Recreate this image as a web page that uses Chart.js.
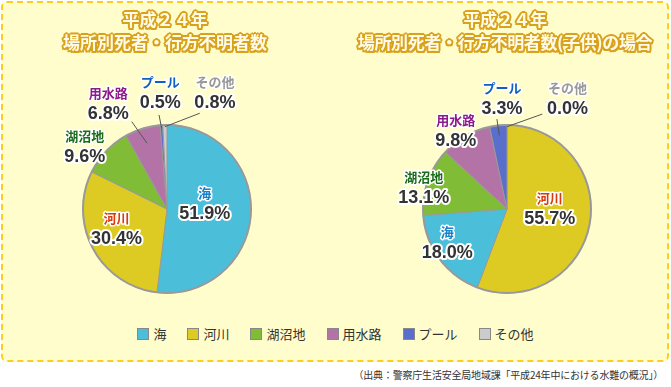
<!DOCTYPE html>
<html><head><meta charset="utf-8">
<script src="https://cdn.jsdelivr.net/npm/chart.js@4"></script>
<style>
html,body{margin:0;padding:0;background:#fff;}
#wrap{position:relative;width:671px;height:387px;overflow:hidden;font-family:"Noto Sans CJK JP",sans-serif;}
#panel{position:absolute;left:1px;top:1px;width:664px;height:357px;border:2px dashed #FFCC22;border-radius:6px;background:#FFFDCC;}
canvas{position:absolute;top:0;}
.title{position:absolute;top:7px;width:330px;text-align:center;font-weight:bold;font-size:17px;line-height:23px;color:#FFFBE6;
 text-shadow:-2px 0 #D9A21C,2px 0 #D9A21C,0 -2px #D9A21C,0 2px #D9A21C,-1.5px -1.5px #D9A21C,1.5px -1.5px #D9A21C,-1.5px 1.5px #D9A21C,1.5px 1.5px #D9A21C,0 0 3px #E8C050;z-index:3;}
#legend{position:absolute;left:0;top:324px;width:671px;display:flex;justify-content:center;align-items:center;gap:21px;font-size:13px;color:#333;z-index:3;}
#legend .it{display:flex;align-items:center;}
#legend .sw{display:inline-block;width:10px;height:10px;border:1px solid #888;margin-right:4px;}
#source{position:absolute;right:8px;top:367px;font-size:10px;letter-spacing:-0.2px;color:#333;white-space:nowrap;}
</style></head>
<body><div id="wrap">
<div id="panel"></div>
<div class="title" style="left:0px">平成２４年<br>場所別死者・行方不明者数</div>
<div class="title" style="left:340px;letter-spacing:-0.4px">平成２４年<br>場所別死者・行方不明者数(子供)の場合</div>
<canvas id="c1" width="335" height="310" style="left:0px"></canvas>
<canvas id="c2" width="335" height="310" style="left:336px"></canvas>
<div id="legend"></div>
<div id="source">（出典：警察庁生活安全局地域課「平成24年中における水難の概況」）</div>
</div>
<script>
// ---- data ----
const categoriesLeft = ['海','河川','湖沼地','用水路','プール','その他'];
const valuesLeft = [51.9, 30.4, 9.6, 6.8, 0.5, 0.8];
const categoriesRight = ['河川','海','湖沼地','用水路','プール','その他'];
const valuesRight = [55.7, 18.0, 13.1, 9.8, 3.3, 0.0];
const legendLabels = ['海','河川','湖沼地','用水路','プール','その他'];

// ---- styles ----
const sliceColors = {'海':'#4BBFD9','河川':'#DDCB24','湖沼地':'#80BC35','用水路':'#B473A6','プール':'#5A6ECB','その他':'#CCCCCC'};
const nameColors = {'海':'#1A80C8','河川':'#D63C10','湖沼地':'#1A6B1A','用水路':'#8B1A8B','プール':'#1060C0','その他':'#999999'};

// label placement: [dx, dy] in radius units from pie centre, optional leader [ex, ey, innerRadiusFactor]
const placeLeft = {
  '海':[0.45,-0.07], '河川':[-0.60,0.23], '湖沼地':[-0.98,-0.74],
  '用水路':[-0.70,-1.26,-0.42,-1.04,0.82],
  'プール':[-0.08,-1.39,-0.095,-1.12,0.96],
  'その他':[0.57,-1.39,0.39,-1.14,0.98]
};
const placeRight = {
  '河川':[0.51,0.0], '海':[-0.71,0.40], '湖沼地':[-0.99,-0.25], '用水路':[-0.61,-0.93],
  'プール':[-0.06,-1.31,-0.12,-1.07,0.88],
  'その他':[0.72,-1.31,0.42,-1.13,0.98]
};

const labelPlugin = {
  id:'sliceLabels',
  afterDatasetsDraw(chart, args, opts){
    const ctx = chart.ctx;
    const meta = chart.getDatasetMeta(0);
    const ds = chart.data.datasets[0];
    const labels = chart.data.labels;
    const first = meta.data[0];
    const cx = first.x, cy = first.y, R = first.outerRadius;
    ctx.save();
    ctx.beginPath(); ctx.arc(cx,cy,R,0,Math.PI*2);
    ctx.lineWidth = 2; ctx.strokeStyle = '#999'; ctx.stroke();
    meta.data.forEach((arc,i)=>{
      const p = opts.place[labels[i]];
      if (p.length > 2){
        const mid = (arc.startAngle + arc.endAngle)/2;
        ctx.beginPath();
        ctx.moveTo(cx + Math.cos(mid)*R*p[4], cy + Math.sin(mid)*R*p[4]);
        ctx.lineTo(cx + p[2]*R, cy + p[3]*R);
        ctx.strokeStyle = '#555'; ctx.lineWidth = 1; ctx.stroke();
      }
    });
    ctx.textAlign = 'center'; ctx.textBaseline = 'middle'; ctx.lineJoin = 'round';
    meta.data.forEach((arc,i)=>{
      const name = labels[i];
      const p = opts.place[name];
      const lx = cx + p[0]*R, ly = cy + p[1]*R;
      ctx.font = 'bold 13px "Noto Sans CJK JP"';
      ctx.lineWidth = 3; ctx.strokeStyle = '#fff';
      ctx.strokeText(name, lx, ly - 10.5);
      ctx.fillStyle = nameColors[name]; ctx.fillText(name, lx, ly - 10.5);
      const pct = ds.data[i].toFixed(1) + '%';
      ctx.font = 'bold 18px "Liberation Sans"';
      ctx.lineWidth = 4; ctx.strokeStyle = '#fff';
      ctx.strokeText(pct, lx, ly + 10.5);
      ctx.fillStyle = '#333'; ctx.fillText(pct, lx, ly + 10.5);
    });
    ctx.restore();
  }
};

function makePie(id, cats, vals, place, padLeft, padRight){
  return new Chart(document.getElementById(id), {
    type:'pie',
    data:{ labels:cats, datasets:[{ data:vals, backgroundColor:cats.map(c=>sliceColors[c]), borderColor:'#999', borderWidth:1, radius:84 }]},
    options:{
      responsive:false, animation:false, devicePixelRatio:1,
      layout:{padding:{top:108,left:padLeft,right:padRight,bottom:0}},
      plugins:{ legend:{display:false}, tooltip:{enabled:false}, sliceLabels:{place:place} }
    },
    plugins:[labelPlugin]
  });
}
makePie('c1', categoriesLeft, valuesLeft, placeLeft, 0, 1);
makePie('c2', categoriesRight, valuesRight, placeRight, 7, 0);

const lg = document.getElementById('legend');
legendLabels.forEach(l=>{
  const it = document.createElement('span'); it.className='it';
  const sw = document.createElement('span'); sw.className='sw'; sw.style.background = sliceColors[l];
  it.appendChild(sw); it.appendChild(document.createTextNode(l));
  lg.appendChild(it);
});
</script>
</body></html>
